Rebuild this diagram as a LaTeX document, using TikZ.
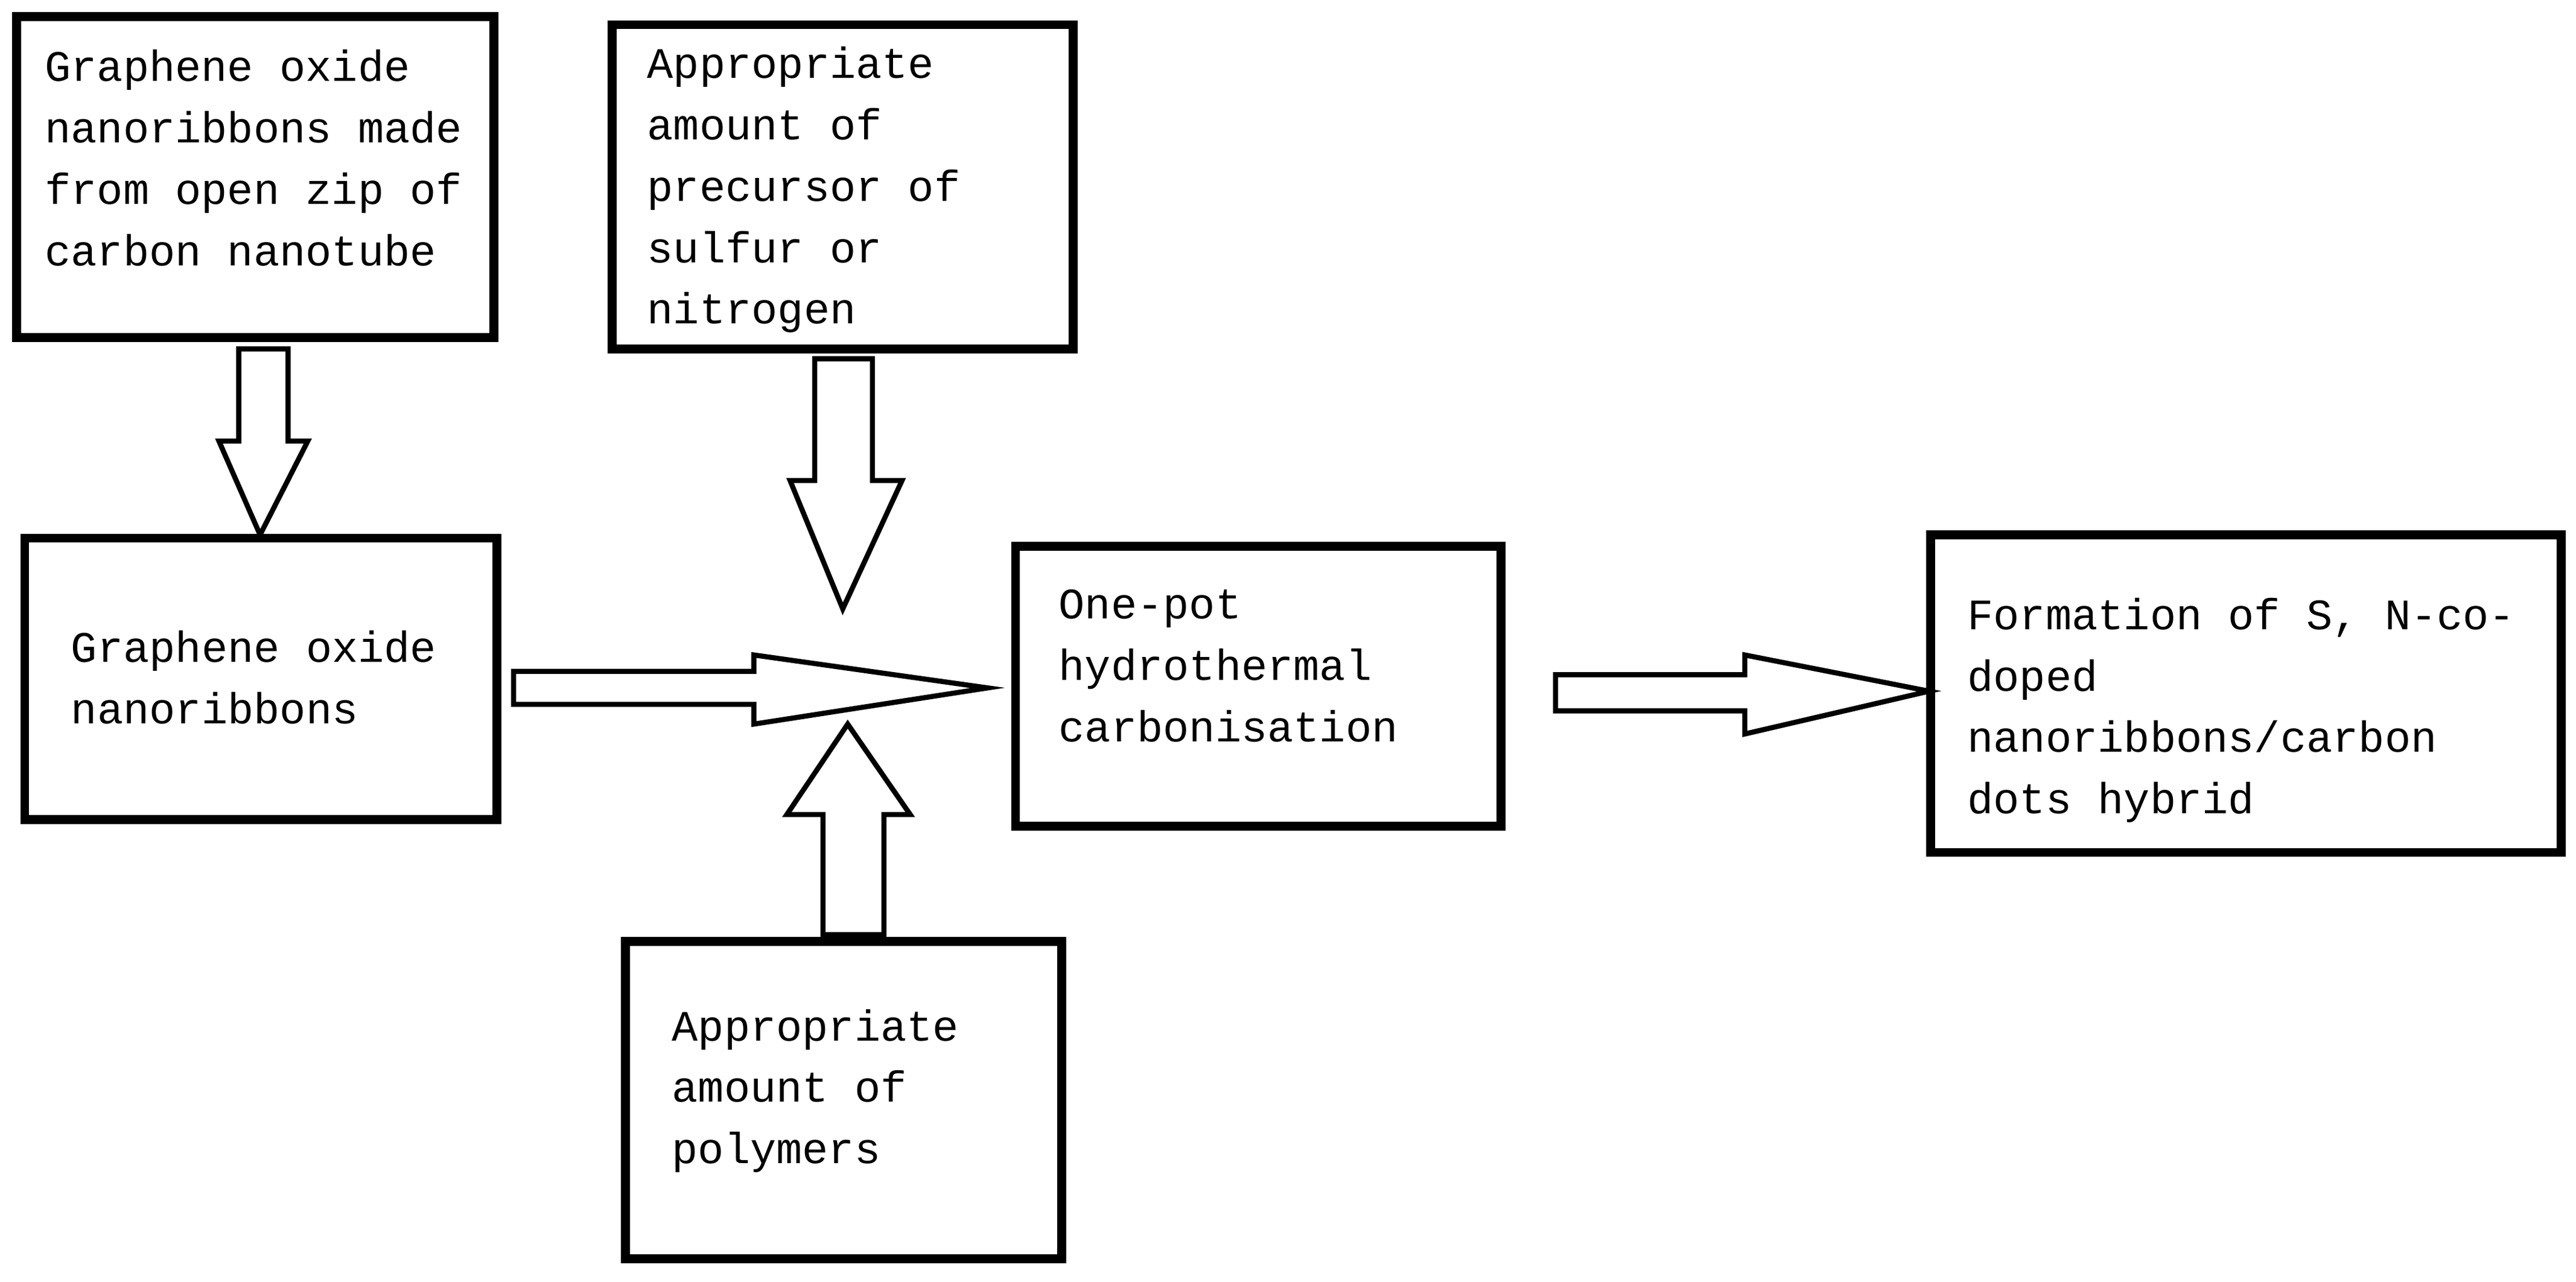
\documentclass[tikz,border=0pt]{standalone}
\usepackage{fontspec}
\setmainfont{Liberation Mono}
\begin{document}
\begin{tikzpicture}[x=0.02728cm,y=-0.02728cm,
  box/.style={draw,line width=4.2pt},
  txt/.style={anchor=north west,inner sep=0pt,align=left,font=\fontsize{20.5}{29}\selectfont},
  barr/.style={draw,line width=2.4pt,line join=miter}]
\useasboundingbox (0,0) rectangle (1565,779);
\draw[box] (10,10) rectangle (300,205);
\draw[box] (372,15) rectangle (652,212);
\draw[box] (15,327) rectangle (302,498);
\draw[box] (617,332) rectangle (912,502);
\draw[box] (1173,325) rectangle (1556,518);
\draw[box] (380,572) rectangle (645,765);
\node[txt] (t1) at (27,30) {Graphene oxide\\nanoribbons made\\from open zip of\\carbon nanotube};
\node[txt] (t2) at (393,28) {Appropriate\\amount of\\precursor of\\sulfur or\\nitrogen};
\node[txt] (t3) at (43,383) {Graphene oxide\\nanoribbons};
\node[txt] (t4) at (643,358) {One-pot\\hydrothermal\\carbonisation};
\node[txt] (t5) at (1195,363) {Formation of S, N-co-\\doped\\nanoribbons/carbon\\dots hybrid};
\node[txt] (t6) at (408,613) {Appropriate\\amount of\\polymers};
% block arrows
\draw[barr] (145,212)--(175,212)--(175,268)--(187,268)--(158,325)--(133,268)--(145,268)--cycle;
\draw[barr] (495,218)--(530,218)--(530,292)--(548,292)--(512,370)--(480,292)--(495,292)--cycle;
\draw[barr] (312,408)--(458,408)--(458,398)--(600,418)--(458,440)--(458,428)--(312,428)--cycle;
\draw[barr] (500,568)--(537,568)--(537,495)--(553,495)--(515,440)--(478,495)--(500,495)--cycle;
\draw[barr] (945,410)--(1060,410)--(1060,398)--(1172,420)--(1060,446)--(1060,432)--(945,432)--cycle;
\end{tikzpicture}
\end{document}
